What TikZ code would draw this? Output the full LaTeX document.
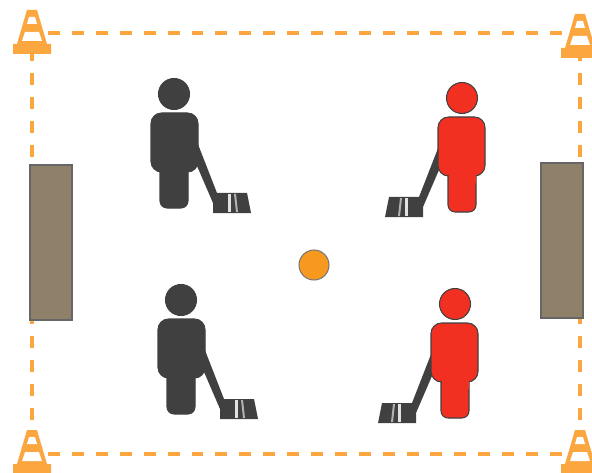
\documentclass[tikz,border=0pt]{standalone}
\definecolor{coneorange}{HTML}{FBA63F}
\definecolor{goalbrown}{HTML}{8F8069}
\definecolor{puckorange}{HTML}{F7981F}
\definecolor{darkplayer}{HTML}{404040}
\definecolor{redplayer}{HTML}{F23022}
\tikzset{
  goalbox/.style={draw=darkplayer!80,fill=goalbrown,line width=0.6pt,inner sep=0pt,minimum width=0.84cm,minimum height=3.1cm},
  puck/.style={circle,draw=darkplayer!70,fill=puckorange,line width=0.6pt,inner sep=0pt,minimum size=0.6cm},
  boundary/.style={coneorange,line width=2.6pt,dash pattern=on 6.8pt off 6.8pt,dash phase=4.4pt},
  cone/.pic={
    \fill[coneorange] (-19,44) -- (19,44) -- (19,34) -- (15,34) -- (5,0) -- (-5,0) -- (-15,34) -- (-19,34) -- cycle;
    \fill[white] (-3,7) -- (3,7) -- (5,14) -- (-5,14) -- cycle;
    \fill[white] (-7,22) -- (7,22) -- (10,31) -- (-10,31) -- cycle;
  },
  player/.pic={
    \fill[darkplayer] (20,40) -- (43,99) -- (73,99) -- (77,119) -- (39,119) -- (39,109) -- (20,65) -- cycle;
    \fill[white,opacity=0.85] (54,100) rectangle (57,118);
    \fill[white,opacity=0.6] (60,100) -- (62,100) -- (64,118) -- (62,118) -- cycle;
    \draw[darkplayer,fill=#1,line width=0.6pt,rounded corners=4pt] (-14,70) rectangle (14,114);
    \draw[darkplayer,fill=#1,line width=0.6pt,rounded corners=6pt] (-23,19) rectangle (24,78);
    \fill[#1] (-13.5,70) rectangle (13.5,85);
    \draw[darkplayer,fill=#1,line width=0.6pt] (0,0) circle (15.5);
  },
}
\begin{document}
\begin{tikzpicture}[x=0.02cm,y=-0.02cm]
  \useasboundingbox[clip] (0,0) rectangle (592,473);
  % field corners
  \coordinate (tl) at (32,33);
  \coordinate (tr) at (580,33);
  \coordinate (bl) at (32,454);
  \coordinate (br) at (580,454);
  \draw[boundary] (tl) -- (tr);
  \draw[boundary] (bl) -- (br);
  \draw[boundary] (tl) -- (bl);
  \draw[boundary] (tr) -- (br);
  \node[goalbox] (goalL) at (51,242.5) {};
  \node[goalbox] (goalR) at (562,240.5) {};
  \node[puck] (ball) at (314,265) {};
  % corners
  \pic at (32,10) {cone};
  \pic at (580,14) {cone};
  \pic at (32,430) {cone};
  \pic at (580,430) {cone};
  % players
  \pic at (174,94) {player=darkplayer};
  \pic at (181,300) {player=darkplayer};
  \pic[xscale=-1] at (462,98) {player=redplayer};
  \pic[xscale=-1] at (455,304) {player=redplayer};
\end{tikzpicture}
\end{document}
